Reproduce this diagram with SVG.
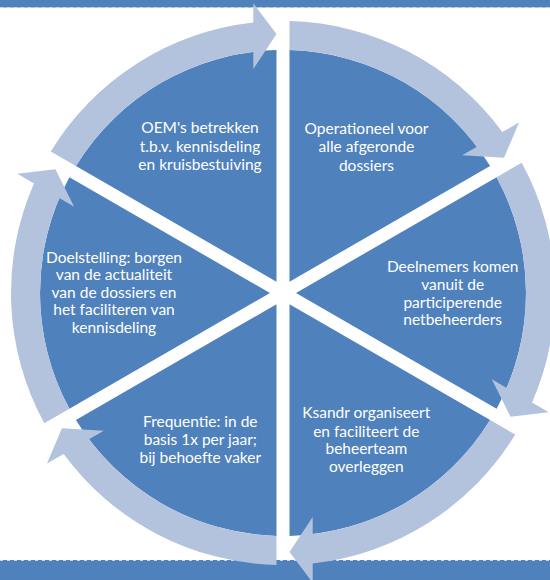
<svg xmlns="http://www.w3.org/2000/svg" xmlns:xlink="http://www.w3.org/1999/xlink" width="550" height="580" viewBox="0 0 550 580">
  <style>
    .sector { fill: #4F81BD; }
    .arrow { fill: #B3C3DE; }
    .bar { fill: #4F81BD; }
    .dash { stroke: #C9D6EA; stroke-width: 1; stroke-dasharray: 3 4; fill: none; }
    .lbl { font-family: Lato, "Liberation Sans", sans-serif; font-size: 15.5px; fill: #FFFFFF; text-anchor: middle; }
  </style>
  <defs>
    <path id="sec" class="sector" d="M 289.5 281.74 L 289.5 50.09 A 243 243 0 0 1 490.11 165.91 Z"/>
    <path id="arr" class="arrow" d="M 50.78 151.42 A 272 272 0 0 1 253.3 22.6 L 253.3 3.3 L 276.5 34 L 253.3 69 L 253.3 51.8 A 243 243 0 0 0 75.9 165.92 Z"/>
  </defs>
  <rect width="550" height="580" fill="#FFFFFF"/>
  <g id="header">
    <rect class="bar" x="0" y="0" width="550" height="7.5"/>
    <line class="dash" x1="0" y1="7.5" x2="550" y2="7.5"/>
  </g>
  <g id="footer">
    <rect class="bar" x="0" y="560" width="550" height="20"/>
    <line class="dash" x1="0" y1="560.5" x2="550" y2="560.5"/>
  </g>
  <g id="node-operationeel">
    <use xlink:href="#sec" href="#sec"/>
    <text class="lbl" x="366.5"><tspan x="366.5" y="134">Operationeel voor</tspan><tspan x="366.5" y="152.3">alle afgeronde</tspan><tspan x="366.5" y="170.5">dossiers</tspan></text>
  </g>
  <g id="node-deelnemers">
    <use xlink:href="#sec" href="#sec" transform="rotate(60 283 293)"/>
    <text class="lbl" x="452.7"><tspan x="452.7" y="272.3">Deelnemers komen</tspan><tspan x="452.7" y="290">vanuit de</tspan><tspan x="452.7" y="307.5">participerende</tspan><tspan x="452.7" y="325">netbeheerders</tspan></text>
  </g>
  <g id="node-ksandr">
    <use xlink:href="#sec" href="#sec" transform="rotate(120 283 293)"/>
    <text class="lbl" x="366.3"><tspan x="366.3" y="418.3">Ksandr organiseert</tspan><tspan x="366.3" y="436.7">en faciliteert de</tspan><tspan x="366.3" y="454.2">beheerteam</tspan><tspan x="366.3" y="471.7">overleggen</tspan></text>
  </g>
  <g id="node-frequentie">
    <use xlink:href="#sec" href="#sec" transform="rotate(180 283 293)"/>
    <text class="lbl" x="200.3"><tspan x="200.3" y="427.3">Frequentie: in de</tspan><tspan x="200.3" y="445.2">basis 1x per jaar;</tspan><tspan x="200.3" y="463.3">bij behoefte vaker</tspan></text>
  </g>
  <g id="node-doelstelling">
    <use xlink:href="#sec" href="#sec" transform="rotate(240 283 293)"/>
    <text class="lbl" x="114"><tspan x="114" y="262.7">Doelstelling: borgen</tspan><tspan x="114" y="280.2">van de actualiteit</tspan><tspan x="114" y="297.7">van de dossiers en</tspan><tspan x="114" y="315.3">het faciliteren van</tspan><tspan x="114" y="332.8">kennisdeling</tspan></text>
  </g>
  <g id="node-oem">
    <use xlink:href="#sec" href="#sec" transform="rotate(300 283 293)"/>
    <text class="lbl" x="200"><tspan x="200" y="133.3">OEM's betrekken</tspan><tspan x="200" y="151.7">t.b.v. kennisdeling</tspan><tspan x="200" y="170">en kruisbestuiving</tspan></text>
  </g>
  <g id="connectors">
    <use xlink:href="#arr" href="#arr"/>
    <use xlink:href="#arr" href="#arr" transform="rotate(60 283 293)"/>
    <use xlink:href="#arr" href="#arr" transform="rotate(120 283 293)"/>
    <use xlink:href="#arr" href="#arr" transform="rotate(180 283 293)"/>
    <use xlink:href="#arr" href="#arr" transform="rotate(240 283 293)"/>
    <use xlink:href="#arr" href="#arr" transform="rotate(300 283 293)"/>
  </g>
</svg>
